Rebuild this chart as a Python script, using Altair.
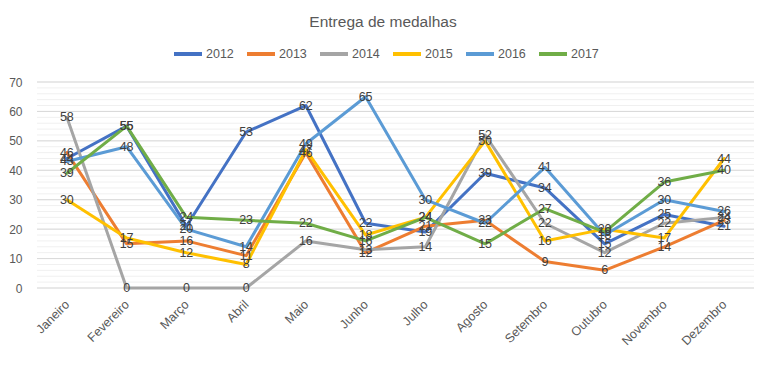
import altair as alt
import pandas as pd

months = ["Janeiro", "Fevereiro", "Março", "Abril", "Maio", "Junho", "Julho",
          "Agosto", "Setembro", "Outubro", "Novembro", "Dezembro"]
years = ["2012", "2013", "2014", "2015", "2016", "2017"]
colors = ["#4472C4", "#ED7D31", "#A5A5A5", "#FFC000", "#5B9BD5", "#70AD47"]

v2012 = [44, 55, 21, 53, 62, 22, 19, 39, 34, 15, 25, 21]
v2013 = [46, 15, 16, 11, 46, 12, 21, 23, 9, 6, 14, 23]
v2014 = [58, 0, 0, 0, 16, 13, 14, 52, 22, 12, 22, 24]
v2015 = [30, 17, 12, 8, 47, 18, 24, 50, 16, 20, 17, 44]
v2016 = [43, 48, 20, 14, 49, 65, 30, 22, 41, 18, 30, 26]
v2017 = [39, 55, 24, 23, 22, 16, 24, 15, 27, 19, 36, 40]

y_major = [0, 10, 20, 30, 40, 50, 60, 70]
y_minor = list(range(0, 72, 2))
title_text = "Entrega de medalhas"

FONT = "Liberation Sans"
series = [v2012, v2013, v2014, v2015, v2016, v2017]
rows = []
for yi, (yr, vals) in enumerate(zip(years, series)):
    for mi, (m, v) in enumerate(zip(months, vals)):
        rows.append({"Mês": m, "Ano": yr, "Valor": v, "ord": yi})
df = pd.DataFrame(rows)

W, H = 717, 206

x_scale = alt.Scale(type="point", padding=0.5)
y_scale = alt.Scale(domain=[0, 70], nice=False)

x_enc = alt.X("Mês:N", sort=months, scale=x_scale,
              axis=alt.Axis(title=None, labelAngle=-45, labelAlign="right",
                            labelBaseline="middle", labelFont=FONT, labelFontSize=12.5,
                            labelColor="#595959", domain=False, ticks=False,
                            labelPadding=14, grid=False))
y_enc = alt.Y("Valor:Q", scale=y_scale,
              axis=alt.Axis(title=None, values=y_major, labelFont=FONT,
                            labelFontSize=12, labelColor="#595959",
                            domain=False, ticks=False, grid=False,
                            labelPadding=15))

minor = alt.Chart(pd.DataFrame({"Valor": y_minor})).mark_rule(
    color="#F0F0F0", strokeWidth=1).encode(y=y_enc)

major = alt.Chart(pd.DataFrame({"Valor": y_major})).mark_rule(
    color="#D9D9D9", strokeWidth=1).encode(y=y_enc)

color_enc = alt.Color("Ano:N", scale=alt.Scale(domain=years, range=colors),
                      legend=alt.Legend(title=None, orient="none", direction="horizontal",
                                        legendX=135, legendY=-44,
                                        symbolType="stroke", symbolSize=784,
                                        symbolStrokeWidth=4, labelFont=FONT,
                                        labelFontSize=12.5, labelColor="#595959",
                                        labelOffset=2, columnPadding=5))

lines = alt.Chart(df).mark_line(strokeWidth=3, strokeCap="round",
                                strokeJoin="round").encode(
    x=x_enc,
    y=y_enc,
    color=color_enc,
    order=alt.Order("ord:Q"),
    detail="Ano:N")

labels = alt.Chart(df).mark_text(font=FONT, fontSize=12.5, color="#404040",
                                 align="center", baseline="middle").encode(
    x=alt.X("Mês:N", sort=months, scale=x_scale),
    y=y_enc,
    text="Valor:Q")

title = alt.Chart(pd.DataFrame({"t": [title_text]})).mark_text(
    font=FONT, fontSize=15.5, color="#595959", align="center", baseline="middle").encode(
    text="t:N", x=alt.value(346), y=alt.value(-60))

chart = alt.layer(minor, major, lines, labels, title).properties(
    width=W, height=H,
    autosize=alt.AutoSizeParams(type="none"),
    padding={"left": 29, "top": 74, "right": 10, "bottom": 72},
    background="white",
).configure_view(stroke=None)

chart.save("out.html", embed_options={"renderer": "svg", "actions": False})
